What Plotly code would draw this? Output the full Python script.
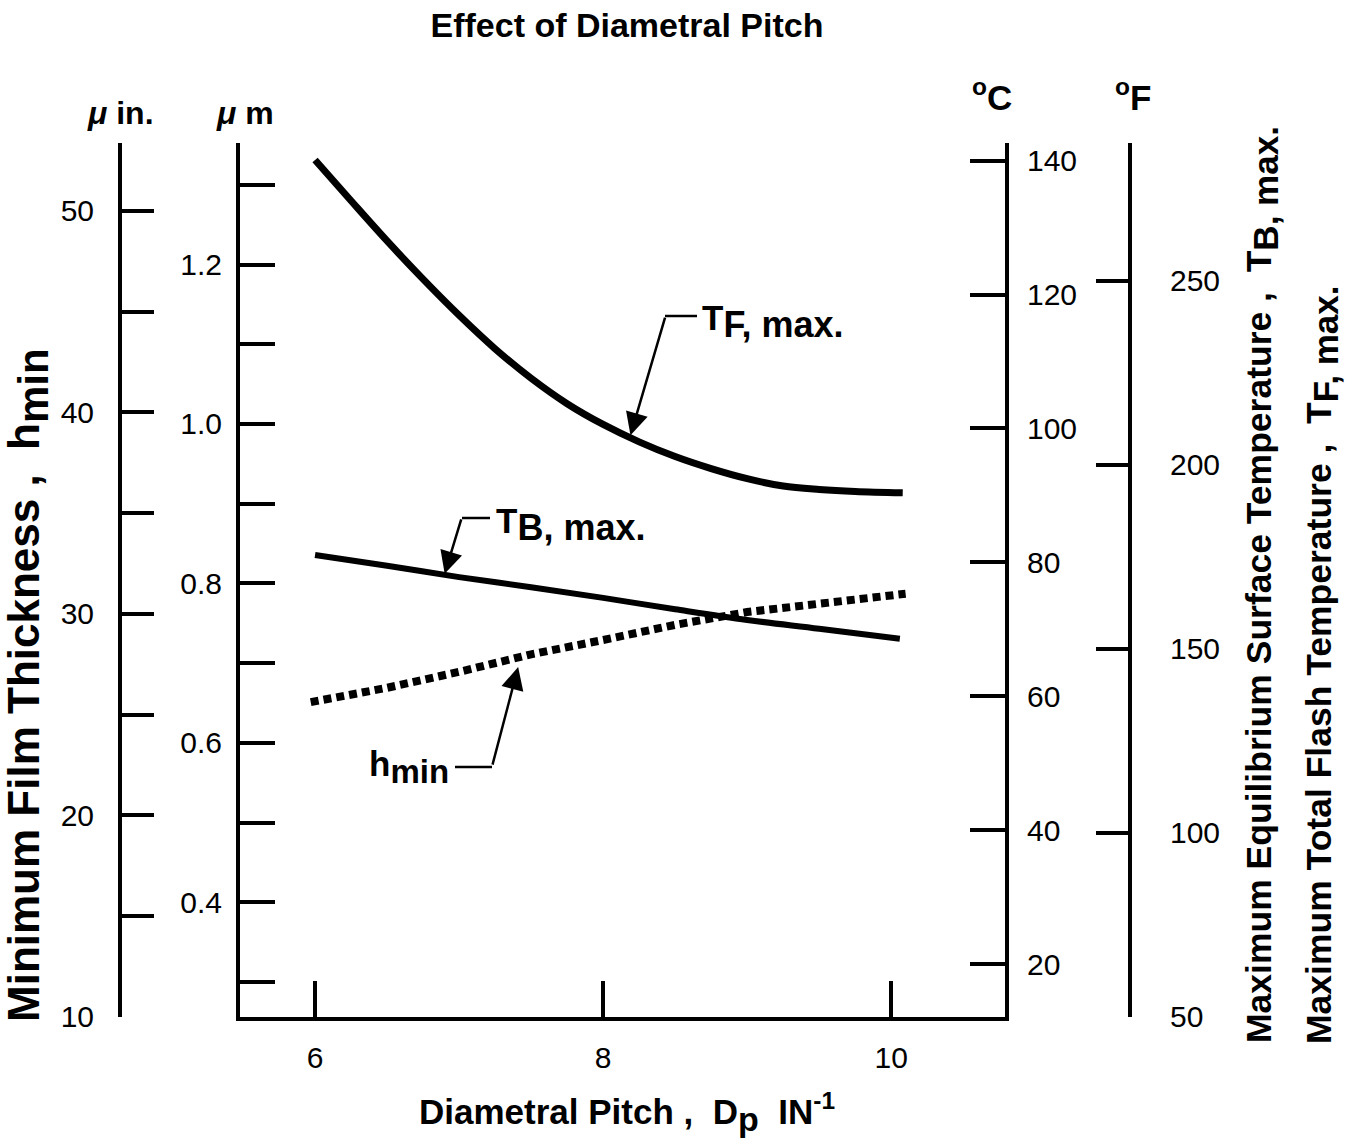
import plotly.graph_objects as go

# ---------------- data ----------------
pitch_TF = [6.0, 6.25, 6.5, 6.75, 7.0, 7.25, 7.5, 7.75, 8.0, 8.25, 8.5, 8.75, 9.0, 9.25, 9.5, 9.75, 10.08]
TF_max_C = [140.1, 134.0, 128.0, 122.3, 116.9, 111.9, 107.5, 103.7, 100.6, 98.0, 95.8, 94.0, 92.5, 91.4, 90.9, 90.6, 90.4]

pitch_TB = [6.0, 6.5, 7.0, 7.5, 8.0, 8.5, 9.0, 9.5, 10.06]
TB_max_C = [81.1, 79.5, 77.8, 76.3, 74.7, 73.0, 71.4, 70.1, 68.6]

pitch_h = [5.97, 6.5, 7.0, 7.5, 8.0, 8.5, 9.0, 9.5, 10.1]
h_min_um = [0.651, 0.669, 0.689, 0.711, 0.729, 0.748, 0.764, 0.775, 0.787]

x_ticks = [6, 8, 10]
um_ticks = [0.3, 0.4, 0.5, 0.6, 0.7, 0.8, 0.9, 1.0, 1.1, 1.2, 1.3]
um_labels = ["", "0.4", "", "0.6", "", "0.8", "", "1.0", "", "1.2", ""]
uin_ticks = [10, 15, 20, 25, 30, 35, 40, 45, 50]
uin_labels = ["10", "", "20", "", "30", "", "40", "", "50"]
C_ticks = [20, 40, 60, 80, 100, 120, 140]
F_ticks = [50, 100, 150, 200, 250]

# ---------------- layout helpers ----------------
W, H = 1346, 1148
L, R, T, B = 120, 1130, 143, 1017  # plotting area in pixels
FONT = "Liberation Sans, Arial, Helvetica, sans-serif"


def px(xp):
    return (xp - L) / (R - L)


def py(yp):
    return (B - yp) / (B - T)


fig = go.Figure()

fig.add_trace(go.Scatter(x=pitch_TF, y=TF_max_C, xaxis="x", yaxis="y3", mode="lines",
                         line=dict(color="black", width=7, shape="spline"), showlegend=False))
fig.add_trace(go.Scatter(x=pitch_TB, y=TB_max_C, xaxis="x", yaxis="y3", mode="lines",
                         line=dict(color="black", width=6, shape="spline"), showlegend=False))
fig.add_trace(go.Scatter(x=pitch_h, y=h_min_um, xaxis="x", yaxis="y", mode="lines",
                         line=dict(color="black", width=8, dash="8px,5px"), showlegend=False))
# empty traces so the secondary scales are drawn
fig.add_trace(go.Scatter(x=[], y=[], xaxis="x", yaxis="y2", showlegend=False))
fig.add_trace(go.Scatter(x=[], y=[], xaxis="x", yaxis="y4", showlegend=False))

tickfont = dict(family=FONT, size=30, color="black")
common = dict(showgrid=False, zeroline=False, showline=True, linecolor="black", linewidth=4,
              ticks="inside", tickwidth=4, tickcolor="black", tickfont=tickfont, tickmode="array")

fig.update_layout(
    width=W, height=H, autosize=False,
    margin=dict(l=L, r=W - R, t=T, b=H - B, pad=0),
    plot_bgcolor="white", paper_bgcolor="white",
    font=dict(family=FONT, color="black"),
    title=dict(text="<b>Effect of Diametral Pitch</b>", x=627 / W, xanchor="center",
               y=1 - 25 / H, yanchor="middle", xref="container",
               font=dict(family=FONT, size=34, color="black")),
    xaxis=dict(domain=[px(240), px(1005)], range=[5.479, 10.79], anchor="y",
               tickvals=x_ticks, ticklen=36, ticklabelstandoff=11, **common),
    yaxis=dict(range=[0.256, 1.3525], anchor="x", side="left",
               tickvals=um_ticks, ticktext=um_labels, ticklen=35, ticklabelstandoff=8, **common),
    yaxis2=dict(range=[9.99, 53.37], overlaying="y", anchor="free", position=0, side="left",
                tickvals=uin_ticks, ticktext=uin_labels, ticklen=32, ticklabelstandoff=18, **common),
    yaxis3=dict(range=[12.11, 142.63], overlaying="y", anchor="x", side="right",
                tickvals=C_ticks, ticklen=35, ticklabelstandoff=12, **common),
    yaxis4=dict(range=[49.99, 287.5], overlaying="y", anchor="free", position=1, side="right",
                tickvals=F_ticks, ticklen=32, ticklabelstandoff=32, **common),
)

NB = "\u00a0"
ann = []
# unit labels
ann.append(dict(text="<b><i>μ</i> in.</b>", x=px(120), y=py(113), font=dict(size=32)))
ann.append(dict(text="<b><i>μ</i> m</b>", x=px(245), y=py(113), font=dict(size=32)))
ann.append(dict(text="<b><sup>o</sup>C</b>", x=px(992), y=py(95), font=dict(size=35)))
ann.append(dict(text="<b><sup>o</sup>F</b>", x=px(1133), y=py(95), font=dict(size=35)))
# axis titles
ann.append(dict(text=f'<b>Diametral Pitch{NB},{NB}{NB}D<sub><span style="font-size:34px">p</span></sub>{NB}{NB}IN<sup>-1</sup></b>',
                x=px(627), y=py(1112), font=dict(size=35)))
ann.append(dict(text=f'<b>Minimum Film Thickness{NB},{NB}{NB}h<sub><span style="font-size:42px">min</span></sub></b>',
                x=px(28), y=py(685), textangle=-90, font=dict(size=44)))
ann.append(dict(text=f'<b>Maximum Equilibrium Surface Temperature{NB},{NB}{NB}T<sub><span style="font-size:35px">B, max.</span></sub></b>',
                x=px(1262), y=py(585), textangle=-90, font=dict(size=35.5)))
ann.append(dict(text=f'<b>Maximum Total Flash Temperature{NB},{NB}{NB}T<sub><span style="font-size:35px">F, max.</span></sub></b>',
                x=px(1322), y=py(665), textangle=-90, font=dict(size=35.5)))
# curve labels
ann.append(dict(text='<b>T<sub><span style="font-size:36px">F, max.</span></sub></b>', x=px(700), y=py(322),
                xanchor="left", font=dict(size=35)))
ann.append(dict(text='<b>T<sub><span style="font-size:36px">B, max.</span></sub></b>', x=px(494), y=py(524),
                xanchor="left", font=dict(size=35)))
ann.append(dict(text='<b>h<sub><span style="font-size:33px">min</span></sub></b>', x=px(451), y=py(767),
                xanchor="right", font=dict(size=35)))
for a in ann:
    a.setdefault("xref", "paper")
    a.setdefault("yref", "paper")
    a.setdefault("showarrow", False)
    a.setdefault("xanchor", "center")
    a.setdefault("yanchor", "middle")
    a["font"] = dict(family=FONT, color="black", **a["font"])

# arrows pointing at curves
arrow_style = dict(text="", showarrow=True, arrowhead=2, arrowsize=1.8, arrowwidth=2.5,
                   arrowcolor="black", standoff=0, startstandoff=0)
ann.append(dict(x=8.19, y=99.0, xref="x", yref="y3", ax=35, ay=-119, **arrow_style))
ann.append(dict(x=6.90, y=78.3, xref="x", yref="y3", ax=17, ay=-56, **arrow_style))
ann.append(dict(x=7.41, y=0.695, xref="x", yref="y", ax=-26, ay=99, **arrow_style))
fig.update_layout(annotations=ann)

# horizontal leader segments
for (x0, x1, yy) in [(665, 697, 316), (462, 490, 518), (455, 492, 767)]:
    fig.add_shape(type="line", xref="paper", yref="paper", x0=px(x0), x1=px(x1), y0=py(yy), y1=py(yy),
                  line=dict(color="black", width=2.5))

fig.write_html("out.html", config={"displayModeBar": False},
               post_script="document.body.style.margin='0px';document.body.style.padding='0px';")
